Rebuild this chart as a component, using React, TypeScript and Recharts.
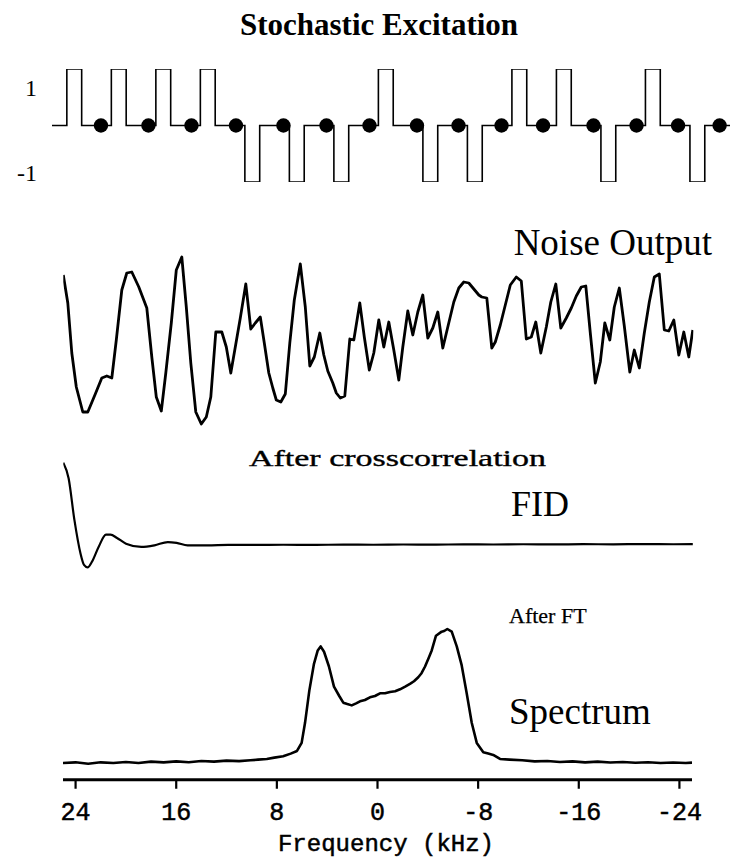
import React from "react";
import { ComposedChart, LineChart, Line, Scatter, XAxis, YAxis } from "recharts";

// ---- Stochastic excitation (pseudo-random pulse sequence) ----
const pulseSigns = [1, 1, 1, 1, -1, -1, -1, 1, -1, -1, 1, 1, -1, 1, -1];
const pulseStarts = [0, 3, 6, 9, 12, 15, 18, 21, 24, 27, 30, 33, 36, 39, 42];
const pulseWidth = 1;
const seqStart = -1;
const seqEnd = 44.7;
const sampleTimes = [2.3, 5.5, 8.4, 11.4, 14.6, 17.5, 20.4, 23.6, 26.4, 29.3, 32.1, 35.5, 38.4, 41.2, 44.0];
const levelTicks = [1, -1];

// ---- Noise output [sample, amplitude] ----
const noise: [number, number][] = [
  [0, 0.65], [0.9, 0.37], [1.7, -0.13], [2.6, -0.47], [3.9, -0.72], [4.9, -0.72], [6.4, -0.54], [7.7, -0.38],
  [8.7, -0.36], [9.7, -0.38], [10.6, 0.0], [11.7, 0.5], [12.7, 0.67], [13.7, 0.68], [15.1, 0.53], [16.7, 0.32],
  [17.7, -0.17], [18.6, -0.57], [19.6, -0.71], [20.5, -0.33], [21.6, 0.17], [22.6, 0.7], [23.7, 0.83], [24.6, 0.33],
  [25.5, -0.23], [26.5, -0.72], [27.6, -0.84], [28.6, -0.77], [29.5, -0.57], [30.5, 0.08], [31.7, 0.08], [32.6, -0.07],
  [33.5, -0.33], [34.4, -0.07], [35.4, 0.22], [36.5, 0.56], [37.5, 0.11], [38.4, 0.17], [39.4, 0.23], [40.2, -0.03],
  [41.1, -0.33], [41.9, -0.48], [42.6, -0.6], [43.5, -0.62], [44.4, -0.54], [45.3, -0.03], [46.2, 0.4], [47.4, 0.76],
  [48.4, 0.33], [49.3, -0.26], [50.2, -0.17], [51.3, 0.07], [52.1, -0.15], [52.9, -0.31], [53.9, -0.43], [54.6, -0.53],
  [55.4, -0.58], [56.3, -0.56], [57.3, 0.01], [58.1, 0.0], [59.3, 0.37], [60.2, 0.03], [61.2, -0.3], [62.1, -0.13],
  [63.1, 0.2], [64.1, -0.07], [65.1, 0.18], [66.1, -0.1], [67.1, -0.4], [67.9, -0.07], [68.9, 0.29], [69.9, 0.05],
  [70.9, 0.28], [71.9, 0.45], [72.9, 0.02], [73.9, 0.12], [74.9, 0.28], [75.9, -0.08], [76.9, 0.13], [78.1, 0.38],
  [79.1, 0.52], [80.1, 0.58], [81.1, 0.57], [82.1, 0.51], [83.1, 0.45], [83.7, 0.43], [84.7, 0.42], [85.7, -0.08],
  [86.4, -0.02], [87.4, 0.15], [88.4, 0.35], [89.4, 0.55], [90.6, 0.63], [91.6, 0.59], [92.6, 0.01], [93.6, 0.03],
  [94.5, 0.18], [95.5, -0.13], [96.6, 0.13], [97.5, 0.38], [98.5, 0.56], [99.5, 0.12], [100.6, 0.22], [101.6, 0.32],
  [102.6, 0.44], [103.6, 0.53], [104.5, 0.54], [105.4, 0.07], [106.4, -0.43], [107.4, -0.22], [108.3, 0.17], [109.3, 0.0],
  [110.2, 0.33], [111.2, 0.52], [112.2, 0.14], [113.3, -0.32], [114.2, -0.1], [115.2, -0.28], [116.2, 0.07], [117.2, 0.38],
  [118.2, 0.63], [119.2, 0.66], [120.2, 0.1], [121.1, 0.09], [122.1, 0.2], [123.1, -0.15], [124.1, 0.08], [125.1, -0.17],
  [125.9, 0.1],
];

// ---- FID after crosscorrelation [sample, amplitude] ----
const fid: [number, number][] = [
  [0, 1.0], [1.06, 0.81], [2.22, 0.3], [3.44, -0.11], [4.14, -0.25], [4.86, -0.28], [5.74, -0.21], [7.06, -0.03],
  [8.54, 0.12], [9.44, 0.12], [10.74, 0.08], [12.54, 0.01], [15.6, -0.03], [18.24, -0.01], [20.9, 0.03], [22.66, 0.02],
  [24.86, -0.01], [28.8, -0.01], [33, -0.004], [38, -0.006], [44, -0.003], [50, -0.005], [56, -0.001], [62, -0.003],
  [68, 0.0], [74, -0.002], [80, 0.002], [86, 0.0], [92, 0.003], [98, 0.001], [104, 0.004], [110, 0.002], [116, 0.005],
  [122, 0.003], [125.9, 0.005],
];

// ---- Spectrum after FT [frequency kHz, intensity] ----
const spectrum: [number, number][] = [
  [25, 0.0], [24, 0.005], [23, -0.005], [22, 0.005], [21, 0.0], [20, 0.008], [19, 0.0], [18, 0.01], [17, 0.005],
  [16, 0.012], [15, 0.006], [14, 0.015], [13, 0.01], [12, 0.018], [11, 0.014], [10.1, 0.02], [9.5, 0.025], [8.8, 0.03],
  [8.2, 0.04], [7.5, 0.05], [6.9, 0.07], [6.4, 0.09], [6.03, 0.15], [5.76, 0.3], [5.42, 0.54], [5.05, 0.74], [4.75, 0.84],
  [4.52, 0.87], [4.25, 0.83], [3.86, 0.72], [3.46, 0.57], [3.04, 0.5], [2.72, 0.45], [2.4, 0.44], [2.05, 0.43],
  [1.7, 0.445], [1.39, 0.46], [1.0, 0.47], [0.6, 0.49], [0.2, 0.5], [-0.2, 0.52], [-0.6, 0.52], [-0.99, 0.53],
  [-1.4, 0.535], [-1.79, 0.55], [-2.2, 0.57], [-2.58, 0.59], [-2.9, 0.61], [-3.24, 0.64], [-3.5, 0.67], [-3.78, 0.72],
  [-4.05, 0.78], [-4.31, 0.84], [-4.65, 0.95], [-5.1, 0.98], [-5.3, 0.985], [-5.55, 1.0], [-5.9, 0.98], [-6.3, 0.87],
  [-6.69, 0.73], [-7.09, 0.52], [-7.49, 0.3], [-7.89, 0.15], [-8.41, 0.08], [-8.8, 0.07], [-9.2, 0.06], [-9.74, 0.03],
  [-10.5, 0.025], [-11.5, 0.02], [-12.5, 0.012], [-13.5, 0.015], [-14.5, 0.008], [-15.5, 0.012], [-16.5, 0.005],
  [-17.5, 0.01], [-18.5, 0.004], [-19.5, 0.008], [-20.5, 0.002], [-21.5, 0.006], [-22.5, 0.0], [-23.5, 0.004],
  [-24.5, 0.0], [-25, 0.003],
];
const freqTicks = [24, 16, 8, 0, -8, -16, -24];

// ---- texts ----
const titleText = "Stochastic Excitation";
const noiseLabel = "Noise Output";
const corrLabel = "After crosscorrelation";
const fidLabel = "FID";
const ftLabel = "After FT";
const specLabel = "Spectrum";
const xLabel = "Frequency (kHz)";

const SERIF = '"Liberation Serif", "Times New Roman", serif';
const MONO = '"Liberation Mono", "Courier New", monospace';

// build step-shaped excitation trace from the pulse list
const pulseTrace: { x: number; y: number }[] = [{ x: seqStart, y: 0 }];
pulseStarts.forEach((s, i) => {
  pulseTrace.push({ x: s, y: 0 });
  pulseTrace.push({ x: s, y: pulseSigns[i] });
  pulseTrace.push({ x: s + pulseWidth, y: pulseSigns[i] });
  pulseTrace.push({ x: s + pulseWidth, y: 0 });
});
pulseTrace.push({ x: seqEnd, y: 0 });
const sampleDots = sampleTimes.map((t) => ({ x: t, y: 0 }));

const noiseData = noise.map(([x, y]) => ({ x, y }));
const fidData = fid.map(([x, y]) => ({ x, y }));
const specData = spectrum.map(([x, y]) => ({ x, y }));

const LevelTick = (props: any) => {
  const { x, y, payload } = props;
  const dy = payload.value > 0 ? 27 : -1;
  return (
    <text x={x} y={y + dy} textAnchor="end" fontFamily={SERIF} fontSize={24} fill="#000">
      {payload.value}
    </text>
  );
};

const Dot = (props: any) => <circle cx={props.cx} cy={props.cy} r={7.2} fill="#000" />;

export default function App() {
  return (
    <div style={{ position: "absolute", left: 0, top: 0, width: 731, height: 864, background: "#fff" }}>
      {/* Pulse sequence */}
      <div style={{ position: "absolute", left: 0, top: 0 }}>
        <ComposedChart width={731} height={200} margin={{ top: 69, right: 1, bottom: 18, left: 0 }}>
          <XAxis type="number" dataKey="x" domain={[seqStart, seqEnd]} hide allowDataOverflow />
          <YAxis
            type="number"
            dataKey="y"
            domain={[-1, 1]}
            ticks={levelTicks}
            width={52}
            axisLine={false}
            tickLine={false}
            tickSize={0}
            tickMargin={15}
            tick={<LevelTick />}
            allowDataOverflow
          />
          <Line data={pulseTrace} dataKey="y" type="linear" stroke="#000" strokeWidth={1.6} dot={false} activeDot={false} isAnimationActive={false} />
          <Scatter data={sampleDots} dataKey="y" shape={<Dot />} isAnimationActive={false} />
        </ComposedChart>
      </div>

      {/* Noise output */}
      <div style={{ position: "absolute", left: 0, top: 200 }}>
        <LineChart width={731} height={250} margin={{ top: 50, right: 37.7, bottom: 20, left: 63.3 }}>
          <XAxis type="number" dataKey="x" domain={[0, 126]} hide allowDataOverflow />
          <YAxis type="number" domain={[-0.9, 0.9]} hide allowDataOverflow />
          <Line data={noiseData} dataKey="y" type="linear" stroke="#000" strokeWidth={2.8} strokeLinejoin="round" dot={false} activeDot={false} isAnimationActive={false} />
        </LineChart>
      </div>

      {/* FID */}
      <div style={{ position: "absolute", left: 0, top: 450 }}>
        <LineChart width={731} height={140} margin={{ top: 4.5, right: 37.7, bottom: 12.8, left: 63.3 }}>
          <XAxis type="number" dataKey="x" domain={[0, 126]} hide allowDataOverflow />
          <YAxis type="number" domain={[-0.4, 1.1]} hide allowDataOverflow />
          <Line data={fidData} dataKey="y" type="monotone" stroke="#000" strokeWidth={2.2} dot={false} activeDot={false} isAnimationActive={false} />
        </LineChart>
      </div>

      {/* Spectrum */}
      <div style={{ position: "absolute", left: 0, top: 590 }}>
        <LineChart width={731} height={274} margin={{ top: 22.25, right: 39, bottom: 24.25, left: 63 }}>
          <XAxis
            type="number"
            dataKey="x"
            domain={[-25, 25]}
            reversed
            ticks={freqTicks}
            interval={0}
            height={60}
            axisLine={{ stroke: "#000", strokeWidth: 2.8 }}
            tickLine={{ stroke: "#000", strokeWidth: 2.2 }}
            tickSize={9}
            tickMargin={13}
            tick={{ fill: "#000", fontFamily: MONO, fontSize: 25, stroke: "#000", strokeWidth: 0.5 }}
            allowDataOverflow
          />
          <YAxis type="number" domain={[-0.125, 1.125]} hide allowDataOverflow />
          <Line data={specData} dataKey="y" type="linear" stroke="#000" strokeWidth={2.6} strokeLinejoin="round" dot={false} activeDot={false} isAnimationActive={false} />
        </LineChart>
      </div>

      {/* Text annotations */}
      <svg width={731} height={864} style={{ position: "absolute", left: 0, top: 0, pointerEvents: "none" }}>
        <text x={379} y={35} textAnchor="middle" fontFamily={SERIF} fontWeight="bold" fontSize={31} fill="#000">
          {titleText}
        </text>
        <text x={712} y={255} textAnchor="end" fontFamily={SERIF} fontSize={37} fill="#000">
          {noiseLabel}
        </text>
        <text x={249} y={466} fontFamily={SERIF} fontSize={23} fill="#000" stroke="#000" strokeWidth={0.35} textLength={297} lengthAdjust="spacingAndGlyphs">
          {corrLabel}
        </text>
        <text x={511} y={516} fontFamily={SERIF} fontSize={36} fill="#000">
          {fidLabel}
        </text>
        <text x={509} y={623} fontFamily={SERIF} fontSize={22} fill="#000" stroke="#000" strokeWidth={0.25}>
          {ftLabel}
        </text>
        <text x={509} y={724} fontFamily={SERIF} fontSize={37} fill="#000">
          {specLabel}
        </text>
        <text x={386} y={851} textAnchor="middle" fontFamily={MONO} fontSize={24} fill="#000" stroke="#000" strokeWidth={0.5}>
          {xLabel}
        </text>
      </svg>
    </div>
  );
}
